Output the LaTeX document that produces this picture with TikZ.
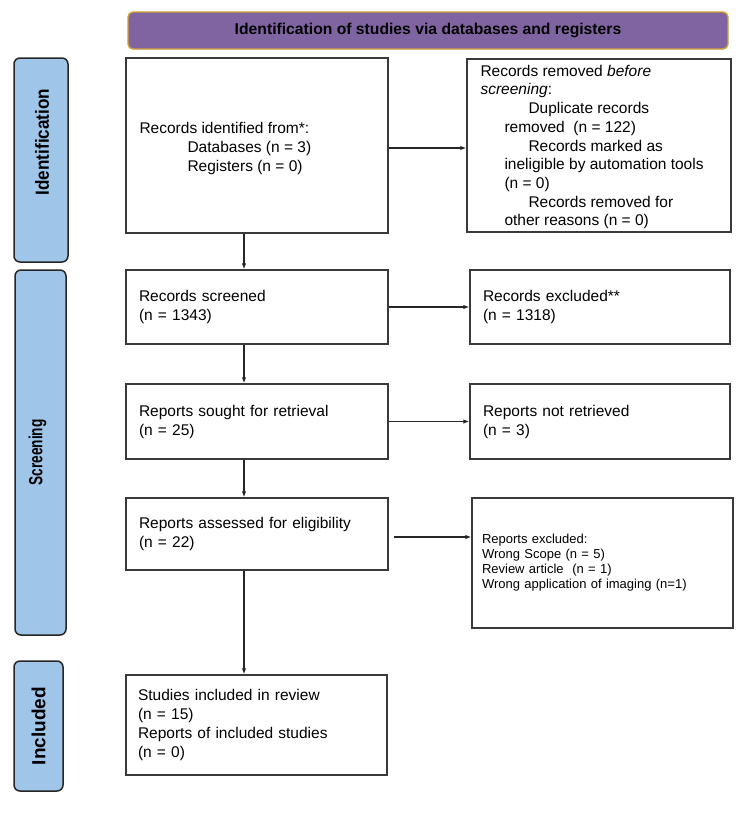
\documentclass[tikz,border=0pt]{standalone}
\usepackage{fontspec}
\setmainfont{Liberation Sans}
\usetikzlibrary{arrows.meta}
\definecolor{bannerfill}{HTML}{8064A2}
\definecolor{bannerline}{HTML}{D1A12F}
\definecolor{sidefill}{HTML}{9FC5E8}
\definecolor{boxline}{HTML}{3A3A3A}
\begin{document}
\begin{tikzpicture}[x=1pt,y=-1pt,
  flowbox/.style={draw=boxline, line width=1.3pt, rectangle, inner xsep=13pt, inner ysep=0pt,
    align=left, font=\fontsize{15.5}{19}\selectfont},
  flowtext/.style={inner sep=0pt, align=left, anchor=west, font=\fontsize{15.5}{18.7}\selectfont},
  sidebox/.style={draw=black!85, line width=1.5pt, fill=sidefill, rounded corners=6pt,
    rotate=90, inner sep=0pt},
  sidetext/.style={rotate=90, inner sep=0pt, font=\bfseries},
  bannerbox/.style={draw=bannerline, line width=1.4pt, fill=bannerfill, rounded corners=5pt,
    inner sep=0pt, font=\bfseries\fontsize{15.7}{18}\selectfont},
  flowarrow/.style={draw=black!85, line width=1.2pt, -{Latex[length=6pt,width=4.5pt]}}
]
\useasboundingbox[fill=white] (0,0) rectangle (750,822);

% banner
\node[bannerbox, minimum width=600pt, minimum height=37pt] (banner) at (428,30.5)
  {Identification of studies via databases and registers};

% side labels
\node[sidebox, minimum width=204pt, minimum height=54pt] (lid) at (41,160) {};
\node[sidetext, font=\bfseries\fontsize{19}{22}\selectfont] (lidt) at ([xshift=1pt,yshift=18pt]lid.center)
  {\scalebox{0.9}[1]{Identification}};
\node[sidebox, minimum width=365pt, minimum height=51pt] (lscr) at (40.5,452.5) {};
\node[sidetext, font=\bfseries\fontsize{19}{22}\selectfont] (lscrt) at ([xshift=-3pt]lscr.center)
  {\scalebox{0.72}[1]{Screening}};
\node[sidebox, minimum width=130pt, minimum height=49pt] (linc) at (38.5,726) {};
\node[sidetext, font=\bfseries\fontsize{19}{22}\selectfont] (linct) at (linc.center) {Included};

% boxes
\node[flowbox, minimum width=262pt, minimum height=175pt] (rid) at (257,145.5) {};
\node[flowtext] (ridt) at ([xshift=14pt,yshift=-3pt]rid.west)
  {Records identified from*:\\
   \hspace*{48pt}Databases (n = 3)\\
   \hspace*{48pt}Registers (n = 0)};

\node[flowbox, minimum width=264pt, minimum height=173pt] (rrem) at (599,145.5) {};
\node[flowtext] (rremt) at ([xshift=14pt,yshift=-1.5pt]rrem.west)
  {Records removed \textit{before}\\
   \textit{screening}:\\
   \hspace*{48pt}Duplicate records\\
   \hspace*{24pt}removed\ \ (n = 122)\\
   \hspace*{48pt}Records marked as\\
   \hspace*{24pt}ineligible by automation tools\\
   \hspace*{24pt}(n = 0)\\
   \hspace*{48pt}Records removed for\\
   \hspace*{24pt}other reasons (n = 0)};

\node[flowbox, minimum width=262pt, minimum height=74pt, text width=236pt] (rscr) at (257,307)
  {Records screened\\(n = 1343)};
\node[flowbox, minimum width=260pt, minimum height=74pt, text width=234pt] (rexc) at (600,307)
  {Records excluded**\\(n = 1318)};

\node[flowbox, minimum width=262pt, minimum height=75pt, text width=236pt] (rsought) at (257,421.5)
  {Reports sought for retrieval\\(n = 25)};
\node[flowbox, minimum width=260pt, minimum height=75pt, text width=234pt] (rnot) at (600,421.5)
  {Reports not retrieved\\(n = 3)};

\node[flowbox, minimum width=262pt, minimum height=72pt, text width=236pt] (rassess) at (257,534)
  {Reports assessed for eligibility\\(n = 22)};
\node[flowbox, minimum width=261pt, minimum height=130pt, inner xsep=10pt, text width=241pt,
  font=\fontsize{13}{15}\selectfont] (rexcl) at (602.5,563)
  {Reports excluded:\\
   Wrong Scope (n = 5)\\
   Review article\ \ (n = 1)\\
   Wrong application of imaging (n=1)};

\node[flowbox, minimum width=261pt, minimum height=100pt, inner xsep=12pt, text width=237pt] (stud) at (256.5,725)
  {Studies included in review\\
   (n = 15)\\
   Reports of included studies\\
   (n = 0)};

% connectors
\draw[flowarrow] ([yshift=-2.5pt]rid.east) -- ([yshift=-2.5pt]rid.east -| rrem.west);
\draw[flowarrow] ([xshift=-13pt]rid.south) -- ([xshift=-13pt]rscr.north);
\draw[flowarrow] (rscr.east) -- (rscr.east -| rexc.west);
\draw[flowarrow] ([xshift=-13pt]rscr.south) -- ([xshift=-13pt]rsought.north);
\draw[flowarrow] (rsought.east) -- (rsought.east -| rnot.west);
\draw[flowarrow] ([xshift=-13pt]rsought.south) -- ([xshift=-13pt]rassess.north);
\draw[flowarrow] ([xshift=5pt,yshift=-3pt]rassess.east) -- ([yshift=-3pt]rassess.east -| rexcl.west);
\draw[flowarrow] ([xshift=-13pt]rassess.south) -- ([xshift=-12.5pt]stud.north);
\end{tikzpicture}
\end{document}
